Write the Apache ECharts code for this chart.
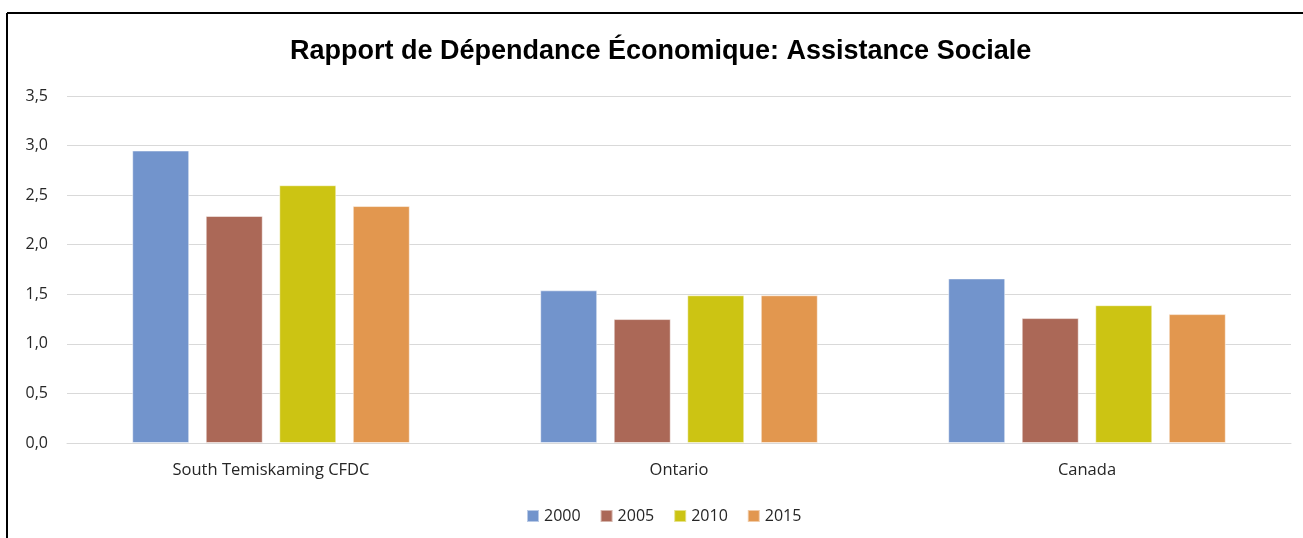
<!DOCTYPE html>
<html>
<head>
<meta charset="utf-8">
<script src="https://cdn.jsdelivr.net/npm/echarts@6/dist/echarts.min.js"></script>
<style>
  html, body { margin: 0; padding: 0; background: #fff; }
  #chart { width: 1303px; height: 538px; }
</style>
</head>
<body>
<div id="chart"></div>
<script>
// Regions compared
const categories = ['South Temiskaming CFDC', 'Ontario', 'Canada'];
// Economic dependency ratio (social assistance) by year
const years = ['2000', '2005', '2010', '2015'];
const values2000 = [2.95, 1.54, 1.66];
const values2005 = [2.29, 1.25, 1.26];
const values2010 = [2.60, 1.49, 1.39];
const values2015 = [2.39, 1.49, 1.30];
const yTicks = ['0,0', '0,5', '1,0', '1,5', '2,0', '2,5', '3,0', '3,5'];

const seriesValues = [values2000, values2005, values2010, values2015];
const colors = ['#7294CC', '#AB6857', '#CCC413', '#E2974F'];
const font = '"Open Sans", "Noto Sans", sans-serif';

const chart = echarts.init(document.getElementById('chart'), null, { renderer: 'canvas' });
chart.setOption({
  animation: false,
  backgroundColor: '#ffffff',
  title: {
    text: 'Rapport de Dépendance Économique: Assistance Sociale',
    left: 285,
    top: 33,
    textStyle: { fontFamily: '"Liberation Sans", sans-serif', fontWeight: 'bold', fontSize: 27, color: '#000' }
  },
  legend: {
    data: years,
    top: 503,
    left: 521,
    itemWidth: 12,
    itemHeight: 12,
    itemGap: 19,
    icon: 'rect',
    textStyle: { fontFamily: font, fontSize: 16, color: '#262626' }
  },
  grid: { left: 67, right: 12, top: 96, bottom: 95, containLabel: false },
  xAxis: {
    type: 'category',
    data: categories,
    axisTick: { show: false },
    axisLine: { lineStyle: { color: '#d9d9d9', width: 1 } },
    axisLabel: { fontFamily: font, fontSize: 16.5, color: '#262626', margin: 19 }
  },
  yAxis: {
    type: 'value',
    min: 0,
    max: 3.5,
    interval: 0.5,
    axisLine: { show: false },
    axisTick: { show: false },
    splitLine: { lineStyle: { color: '#d9d9d9', width: 1 } },
    axisLabel: {
      fontFamily: font, fontSize: 16, color: '#262626', margin: 19,
      formatter: (v) => yTicks[Math.round(v / 0.5)]
    }
  },
  series: years.map((y, i) => ({
    name: y,
    type: 'bar',
    data: seriesValues[i],
    barWidth: 57,
    barGap: '29%',
    itemStyle: { color: colors[i], borderColor: 'rgba(255,255,255,0.5)', borderWidth: 1 }
  })),
  graphic: [
    { type: 'line', shape: { x1: 7, y1: 13, x2: 1303, y2: 13 }, style: { stroke: '#000', lineWidth: 2 }, z: 100 },
    { type: 'line', shape: { x1: 7, y1: 13, x2: 7, y2: 538 }, style: { stroke: '#000', lineWidth: 2 }, z: 100 }
  ]
});
</script>
</body>
</html>
